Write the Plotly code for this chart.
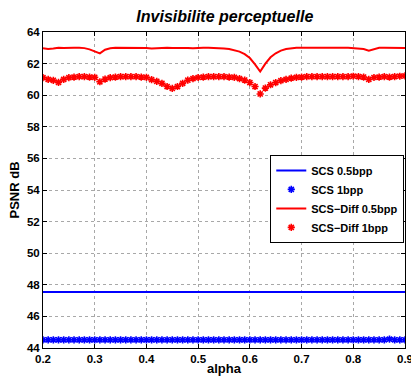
import plotly.graph_objects as go

alpha = [0.20, 0.21, 0.22, 0.23, 0.24, 0.25, 0.26, 0.27, 0.28, 0.29,
         0.30, 0.31, 0.32, 0.33, 0.34, 0.35, 0.36, 0.37, 0.38, 0.39,
         0.40, 0.41, 0.42, 0.43, 0.44, 0.45, 0.46, 0.47, 0.48, 0.49,
         0.50, 0.51, 0.52, 0.53, 0.54, 0.55, 0.56, 0.57, 0.58, 0.59,
         0.60, 0.61, 0.62, 0.63, 0.64, 0.65, 0.66, 0.67, 0.68, 0.69,
         0.70, 0.71, 0.72, 0.73, 0.74, 0.75, 0.76, 0.77, 0.78, 0.79,
         0.80, 0.81, 0.82, 0.83, 0.84, 0.85, 0.86, 0.87, 0.88, 0.89,
         0.90]

scs_05 = [47.55, 47.55, 47.56, 47.55, 47.55, 47.55, 47.56, 47.55, 47.54, 47.55,
          47.56, 47.55, 47.55, 47.56, 47.56, 47.55, 47.55, 47.55, 47.55, 47.56,
          47.55, 47.55, 47.55, 47.55, 47.56, 47.55, 47.55, 47.55, 47.55, 47.55,
          47.56, 47.55, 47.55, 47.55, 47.56, 47.55, 47.55, 47.55, 47.55, 47.55,
          47.55, 47.55, 47.55, 47.55, 47.56, 47.55, 47.54, 47.55, 47.56, 47.55,
          47.55, 47.56, 47.55, 47.55, 47.55, 47.55, 47.55, 47.55, 47.55, 47.55,
          47.56, 47.55, 47.54, 47.55, 47.56, 47.55, 47.56, 47.57, 47.58, 47.55,
          47.55]

scs_1 = [44.52, 44.52, 44.52, 44.52, 44.52, 44.52, 44.52, 44.52, 44.52, 44.52,
         44.52, 44.52, 44.52, 44.52, 44.52, 44.52, 44.52, 44.52, 44.52, 44.52,
         44.52, 44.52, 44.52, 44.52, 44.52, 44.52, 44.52, 44.52, 44.52, 44.52,
         44.52, 44.52, 44.52, 44.52, 44.52, 44.52, 44.52, 44.52, 44.52, 44.52,
         44.52, 44.52, 44.52, 44.52, 44.52, 44.52, 44.52, 44.52, 44.52, 44.52,
         44.52, 44.52, 44.52, 44.52, 44.52, 44.52, 44.52, 44.52, 44.52, 44.52,
         44.52, 44.52, 44.52, 44.52, 44.52, 44.52, 44.52, 44.56, 44.52, 44.52,
         44.52]

diff_05 = [62.97, 62.93, 62.95, 63.00, 62.98, 62.97, 63.00, 63.00, 62.98, 62.90,
           62.75, 62.65, 62.88, 62.97, 63.00, 63.00, 63.02, 63.02, 63.02, 63.01,
           62.98, 62.95, 62.97, 63.00, 63.00, 62.98, 62.99, 63.00, 62.98, 62.97,
           63.00, 63.00, 63.00, 63.00, 62.99, 62.96, 62.92, 62.86, 62.76, 62.60,
           62.35, 61.95, 61.50, 62.00, 62.40, 62.65, 62.82, 62.92, 62.97, 63.00,
           63.00, 63.01, 63.01, 63.00, 63.00, 63.00, 62.99, 62.97, 63.00, 63.00,
           62.98, 62.97, 62.92, 62.82, 62.93, 63.00, 63.00, 62.99, 63.00, 63.00,
           62.99]

diff_1 = [61.11, 61.00, 60.94, 60.81, 61.00, 61.11, 61.15, 61.17, 61.17, 61.15,
          61.13, 60.85, 61.02, 61.11, 61.15, 61.17, 61.17, 61.17, 61.17, 61.15,
          61.13, 60.98, 60.88, 60.75, 60.55, 60.43, 60.55, 60.75, 60.95, 61.05,
          61.12, 61.15, 61.17, 61.17, 61.17, 61.17, 61.15, 61.13, 61.05, 60.96,
          60.80, 60.55, 60.08, 60.45, 60.66, 60.80, 60.92, 61.00, 61.08, 61.13,
          61.15, 61.17, 61.17, 61.18, 61.17, 61.17, 61.17, 61.18, 61.17, 61.17,
          61.20, 61.18, 61.15, 61.00, 61.12, 61.15, 61.17, 61.15, 61.18, 61.20,
          61.22]

x_ticks = [0.2, 0.3, 0.4, 0.5, 0.6, 0.7, 0.8, 0.9]
x_labels = ["0.2", "0.3", "0.4", "0.5", "0.6", "0.7", "0.8", "0.9"]
y_ticks = [44, 46, 48, 50, 52, 54, 56, 58, 60, 62, 64]
y_labels = ["44", "46", "48", "50", "52", "54", "56", "58", "60", "62", "64"]

FONT = "Liberation Sans, Arial, Helvetica, sans-serif"

fig = go.Figure()
fig.add_trace(go.Scatter(x=alpha, y=scs_05, mode="lines", name="<b>SCS 0.5bpp</b>",
                         line=dict(color="#0000ff", width=2)))
fig.add_trace(go.Scatter(x=alpha, y=scs_1, mode="markers", name="<b>SCS 1bpp</b>",
                         marker=dict(symbol="asterisk-open", size=6, color="#0000ff",
                                     line=dict(color="#0000ff", width=1.6))))
fig.add_trace(go.Scatter(x=alpha, y=diff_05, mode="lines", name="<b>SCS\u2212Diff 0.5bpp</b>",
                         line=dict(color="#ff0000", width=2)))
fig.add_trace(go.Scatter(x=alpha, y=diff_1, mode="markers", name="<b>SCS\u2212Diff 1bpp</b>",
                         marker=dict(symbol="asterisk-open", size=6, color="#ff0000",
                                     line=dict(color="#ff0000", width=1.6))))

axis_common = dict(
    showline=True, linecolor="black", linewidth=1, mirror="ticks",
    ticks="inside", ticklen=4, tickcolor="black",
    showgrid=True, gridcolor="#a8a8a8", griddash="dot", gridwidth=1,
    zeroline=False, ticklabeloverflow="allow", automargin=False,
    tickfont=dict(family=FONT, size=11.5, color="black"),
)

fig.update_layout(
    width=411, height=380,
    margin=dict(l=43, r=6, t=32, b=32, autoexpand=False),
    paper_bgcolor="white", plot_bgcolor="white",
    title=dict(text="<b><i>Invisibilite perceptuelle</i></b>", x=0.547, xref="container",
               xanchor="center", y=0.957, yanchor="middle",
               font=dict(family=FONT, size=16, color="black")),
    xaxis=dict(range=[0.2, 0.90001], tickvals=x_ticks,
               ticktext=["<b>%s</b>" % t for t in x_labels],
               title=dict(text="<b>alpha</b>", standoff=0,
                          font=dict(family=FONT, size=13, color="black")),
               **axis_common),
    yaxis=dict(range=[44, 64], tickvals=y_ticks,
               ticktext=["<b>%s</b>" % t for t in y_labels],
               title=dict(text="<b>PSNR dB</b>", standoff=4,
                          font=dict(family=FONT, size=13, color="black")),
               **axis_common),
    legend=dict(x=0.998, y=0.611, xanchor="right", yanchor="top",
                bgcolor="white", bordercolor="black", borderwidth=1,
                font=dict(family=FONT, size=11, color="black"),
                tracegroupgap=0, itemwidth=30),
    showlegend=True,
)

fig.write_html("out.html")
